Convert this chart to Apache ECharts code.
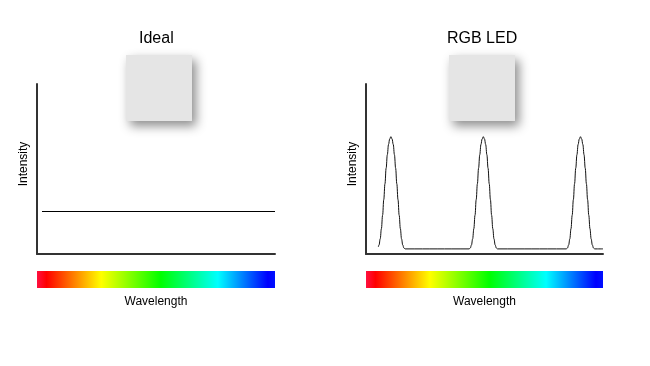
<!DOCTYPE html>
<html>
<head>
<meta charset="utf-8">
<script src="https://cdn.jsdelivr.net/npm/echarts@6/dist/echarts.min.js"></script>
<style>html,body{margin:0;padding:0;background:#fff}#c{width:650px;height:366px}</style>
</head>
<body>
<div id="c"></div>
<script>
// Panel titles and axis labels
const panelTitles = ['Ideal', 'RGB LED'];
const xAxisLabel = 'Wavelength';
const yAxisLabel = 'Intensity';

// Ideal: flat spectrum (x = wavelength position 0..100, y = intensity 0..100)
const idealSpectrum = [[2.1, 25], [100, 25]];

// RGB LED: three narrow peaks on a low baseline
const rgbSpectrum = [
  [5.2, 4.2], [5.5, 5.3], [6, 8.9], [6.5, 14.9], [7, 22.8], [7.5, 32.0], [8, 41.3], [8.5, 50.5],
  [9, 58.4], [9.5, 64.4], [10, 67.7], [10.5, 69], [11, 67.7], [11.5, 64.4], [12, 58.4],
  [12.5, 50.5], [13, 41.3], [13.5, 32.0], [14, 22.8], [14.5, 14.9], [15, 8.9], [15.5, 5.3],
  [16, 3.5], [16.5, 3],
  [43.5, 3], [44, 3.5], [44.5, 5.3], [45, 8.9], [45.5, 14.9], [46, 22.8], [46.5, 32.0],
  [47, 41.3], [47.5, 50.5], [48, 58.4], [48.5, 64.4], [49, 67.7], [49.5, 69], [50, 67.7],
  [50.5, 64.4], [51, 58.4], [51.5, 50.5], [52, 41.3], [52.5, 32.0], [53, 22.8], [53.5, 14.9],
  [54, 8.9], [54.5, 5.3], [55, 3.5], [55.5, 3],
  [84.5, 3], [85, 3.5], [85.5, 5.3], [86, 8.9], [86.5, 14.9], [87, 22.8], [87.5, 32.0],
  [88, 41.3], [88.5, 50.5], [89, 58.4], [89.5, 64.4], [90, 67.7], [90.5, 69], [91, 67.7],
  [91.5, 64.4], [92, 58.4], [92.5, 50.5], [93, 41.3], [93.5, 32.0], [94, 22.8], [94.5, 14.9],
  [95, 8.9], [95.5, 5.3], [96, 3.5], [96.5, 3],
  [100, 3]
];

// Visible spectrum colour stops
const spectrumStops = [
  [0, '#ff1040'], [0.04, '#ff0000'], [0.15, '#ff7a00'], [0.27, '#ffff00'],
  [0.52, '#00ff00'], [0.76, '#00ffff'], [0.97, '#0000ff'], [1, '#0010ff']
];

const chart = echarts.init(document.getElementById('c'), null, {renderer: 'canvas'});
const font = 'Liberation Sans, Arial, sans-serif';
const grids = [
  {left: 37, top: 84, width: 238, height: 170},
  {left: 366, top: 84, width: 237, height: 170}
];

function axisX(i) {
  return {
    type: 'value', gridIndex: i, min: 0, max: 100,
    axisLine: {show: true, lineStyle: {color: '#333', width: 2}},
    axisTick: {show: false}, axisLabel: {show: false}, splitLine: {show: false},
    name: xAxisLabel, nameLocation: 'middle', nameGap: 42,
    nameTextStyle: {fontFamily: font, fontSize: 12, color: '#000'}
  };
}
function axisY(i) {
  return {
    type: 'value', gridIndex: i, min: 0, max: 100,
    axisLine: {show: true, lineStyle: {color: '#333', width: 2}},
    axisTick: {show: false}, axisLabel: {show: false}, splitLine: {show: false},
    name: yAxisLabel, nameLocation: 'middle', nameGap: 7,
    nameTextStyle: {fontFamily: font, fontSize: 12, color: '#000', padding: [0, 0, 0, 10]}
  };
}

function spectrumGradient() {
  return new echarts.graphic.LinearGradient(0, 0, 1, 0,
    spectrumStops.map(s => ({offset: s[0], color: s[1]})));
}

const titleStyle = {fontFamily: font, fontSize: 16, fontWeight: 'normal', color: '#000'};

chart.setOption({
  animation: false,
  backgroundColor: '#fff',
  title: [
    {text: panelTitles[0], left: 139, top: 31, padding: 0, textStyle: titleStyle},
    {text: panelTitles[1], left: 447, top: 31, padding: 0, textStyle: titleStyle}
  ],
  grid: grids,
  xAxis: [axisX(0), axisX(1)],
  yAxis: [axisY(0), axisY(1)],
  series: [
    {type: 'line', xAxisIndex: 0, yAxisIndex: 0, data: idealSpectrum, showSymbol: false,
     lineStyle: {color: '#000', width: 1}},
    {type: 'line', xAxisIndex: 1, yAxisIndex: 1, data: rgbSpectrum, showSymbol: false,
     smooth: 0.4, smoothMonotone: 'x',
     lineStyle: {color: '#111', width: 1}}
  ],
  graphic: [
    {type: 'rect', shape: {x: 126, y: 55, width: 66, height: 66},
     style: {fill: '#e5e5e5', shadowBlur: 10, shadowOffsetX: 4, shadowOffsetY: 5, shadowColor: 'rgba(0,0,0,0.45)'}},
    {type: 'rect', shape: {x: 449, y: 55, width: 66, height: 66},
     style: {fill: '#e5e5e5', shadowBlur: 10, shadowOffsetX: 4, shadowOffsetY: 5, shadowColor: 'rgba(0,0,0,0.45)'}},
    {type: 'rect', shape: {x: 37, y: 271, width: 238, height: 17}, style: {fill: spectrumGradient()}},
    {type: 'rect', shape: {x: 366, y: 271, width: 237, height: 17}, style: {fill: spectrumGradient()}}
  ]
});
</script>
</body>
</html>
